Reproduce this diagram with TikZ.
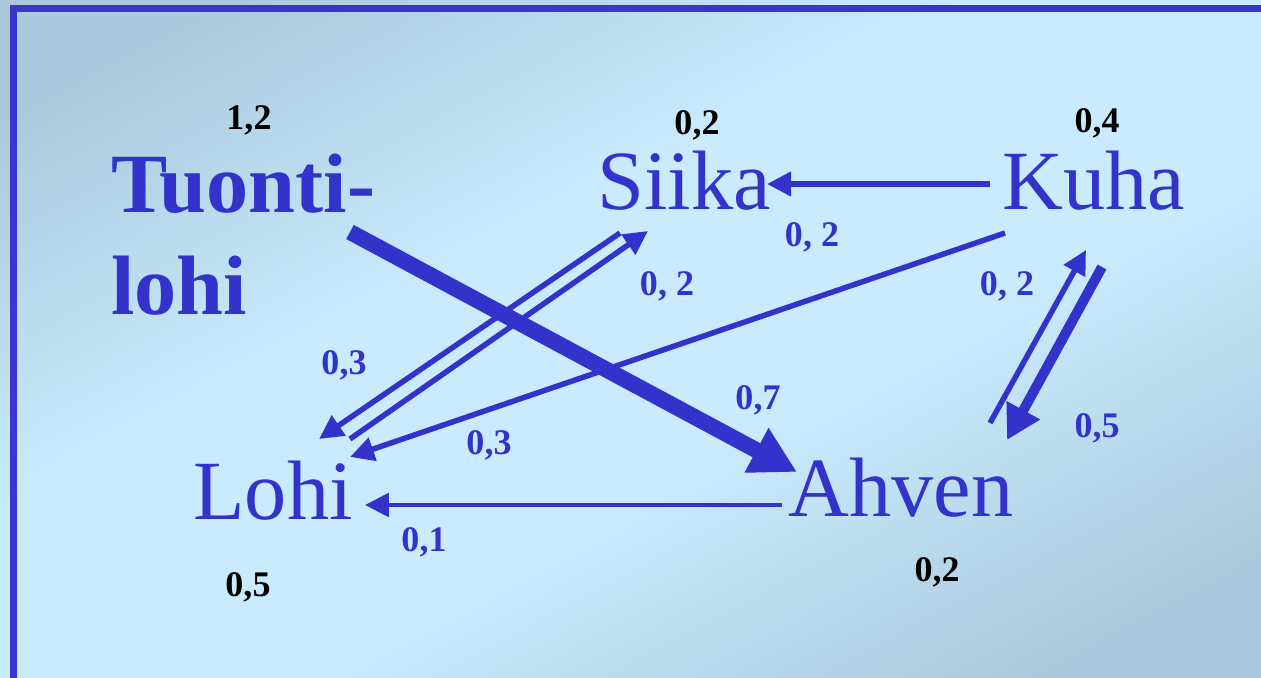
\documentclass[tikz,border=0pt]{standalone}
\usepackage{fontspec}
\setmainfont{Liberation Serif}
\usetikzlibrary{arrows.meta}
\definecolor{fishblue}{RGB}{51,51,204}
\definecolor{framecol}{RGB}{58,54,204}
\definecolor{bgdark}{RGB}{172,200,220}
\definecolor{bglight}{RGB}{201,235,253}
\pgfdeclareverticalshading{slidebg}{100bp}{color(0bp)=(bgdark); color(22bp)=(bgdark); color(42bp)=(bglight); color(58bp)=(bglight); color(78bp)=(bgdark); color(100bp)=(bgdark)}
\tikzset{
  species/.style={anchor=base, inner sep=0pt, text=fishblue, font=\fontsize{48}{58}\selectfont},
  flowlabel/.style={anchor=base, inner sep=0pt, text=fishblue, font=\fontsize{20.5}{24}\selectfont\bfseries},
  stocklabel/.style={anchor=base, inner sep=0pt, text=black, font=\fontsize{20.5}{24}\selectfont\bfseries},
  thinflow/.style={draw=fishblue, line width=0.11cm, -{Triangle[length=0.48cm,width=0.47cm]}},
  midflow/.style={draw=fishblue, line width=0.2cm, -{Triangle[length=0.68cm,width=0.72cm]}},
  bigflow/.style={draw=fishblue, line width=0.32cm, -{Triangle[length=0.92cm,width=0.95cm]}}
}

\begin{document}
\begin{tikzpicture}[x=0.02cm, y=-0.02cm]
    \useasboundingbox (0,0) rectangle (1261,678);
    \clip (0,0) rectangle (1261,678);
    \shade[shading=slidebg, shading angle=28] (0cm,-13.56cm) rectangle (25.22cm,0cm);
    \draw[framecol, line width=0.14cm] (13.5,9) rectangle (1266,681);

    % species
    \node[species, font=\fontsize{48}{58}\selectfont\bfseries, align=left, anchor=north west] (tuonti) at (111,154) {Tuonti-\\lohi};
    \node[species] (siika) at (684,210) {Siika};
    \node[species] (kuha) at (1094,210) {Kuha};
    \node[species] (lohi) at (273,520) {Lohi};
    \node[species] (ahven) at (901,517) {Ahven};

    % stocks
    \node[stocklabel] (sTuonti) at (249,130) {1,2};
    \node[stocklabel] (sSiika) at (697,135) {0,2};
    \node[stocklabel] (sKuha) at (1097,133) {0,4};
    \node[stocklabel] (sLohi) at (248,597) {0,5};
    \node[stocklabel] (sAhven) at (937,582) {0,2};

    % flows
    \draw[thinflow] ([shift={(-104,-26)}]kuha.base) -- ([shift={(83,-26)}]siika.base);
    \draw[bigflow] ([shift={(239,78)}]tuonti.north west) -- ([shift={(-104,-45)}]ahven.base);
    \draw[thinflow] ([shift={(77,-81)}]lohi.base) -- ([shift={(-36,21)}]siika.base);
    \draw[thinflow] ([shift={(-64,23)}]siika.base) -- ([shift={(46,-81)}]lohi.base);
    \draw[thinflow] ([shift={(-89,23)}]kuha.base) -- ([shift={(77,-63)}]lohi.base);
    \draw[thinflow, line width=0.09cm] ([shift={(-119,-12)}]ahven.base) -- ([shift={(92,-15)}]lohi.base);
    \draw[thinflow] ([shift={(89,-94)}]ahven.base) -- ([shift={(-8,40)}]kuha.base);
    \draw[midflow] ([shift={(8,57)}]kuha.base) -- ([shift={(106,-77)}]ahven.base);

    \node[flowlabel] (fKS) at (812,247) {0, 2};
    \node[flowlabel] (fLS) at (667,296) {0, 2};
    \node[flowlabel] (fAK) at (1007,296) {0, 2};
    \node[flowlabel] (fSL) at (344,375) {0,3};
    \node[flowlabel] (fTA) at (758,410) {0,7};
    \node[flowlabel] (fKL) at (489,455) {0,3};
    \node[flowlabel] (fKA) at (1097,438) {0,5};
    \node[flowlabel] (fAL) at (424,552) {0,1};
\end{tikzpicture}
\end{document}
